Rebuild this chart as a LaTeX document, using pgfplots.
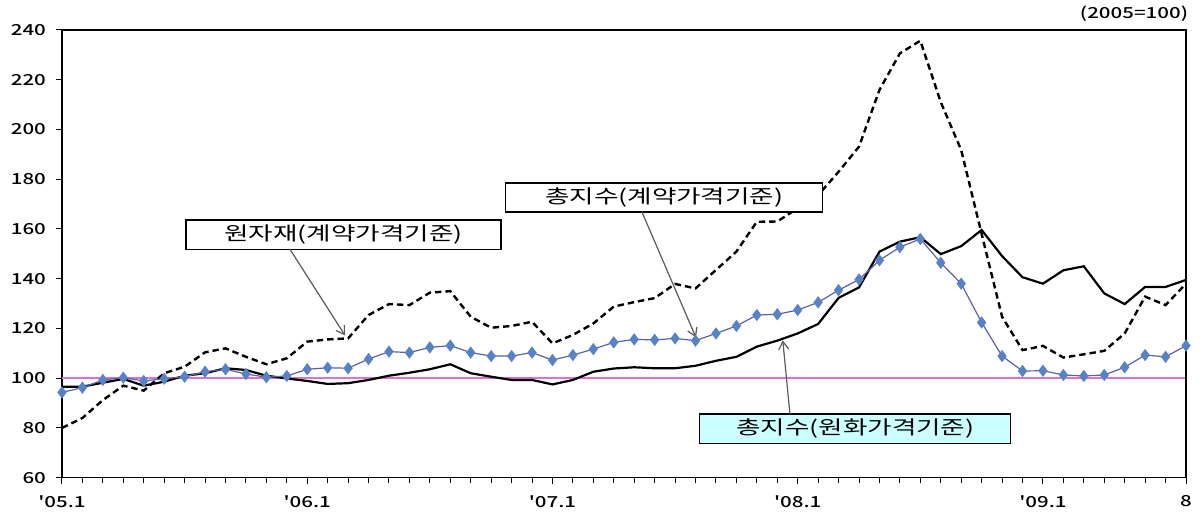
\documentclass[border=0pt]{standalone}
\usepackage{fontspec}
\setmainfont{Noto Sans CJK KR}[FakeStretch=1.4]
\newfontfamily\tickfont{Noto Sans CJK KR Medium}[FakeStretch=1.35]
\usepackage{pgfplots}
\pgfplotsset{compat=1.18}
\usetikzlibrary{arrows.meta}

\definecolor{markblue}{RGB}{88,130,198}
\definecolor{lineblue}{RGB}{92,96,170}
\definecolor{refpink}{RGB}{226,112,210}
\definecolor{boxcyan}{RGB}{204,255,255}
\definecolor{arrowgray}{RGB}{90,90,90}

\begin{document}
\begin{tikzpicture}
\path[use as bounding box] (-31pt,-17.65pt) rectangle (570.5pt,238.85pt);
\begin{axis}[
  scale only axis,
  width=562pt, height=223.85pt,
  clip=false,
  xmin=0, xmax=55,
  ymin=60, ymax=240,
  xtick={0,12,24,36,48,55},
  xticklabels={'05.1,'06.1,'07.1,'08.1,'09.1,8},
  minor xtick={0,...,55},
  ytick={60,80,...,240},
  tick align=outside,
  major tick length=3pt,
  minor tick length=2.5pt,
  tick style={black, line width=0.5pt},
  axis line style={black, line width=0.6pt},
  axis x line*=bottom,
  axis y line*=left,
  /pgf/number format/assume math mode=true,
  tick label style={font=\tickfont\fontsize{7.6}{8}\selectfont},
  yticklabel style={xshift=-1.5pt},
  xticklabel style={yshift=-2.5pt},
]
% reference line at 100
\addplot[refpink, line width=1pt] coordinates {(0,100) (55,100)};
\draw[black, line width=0.6pt] (axis cs:0,240) -- (axis cs:55,240) -- (axis cs:55,60);

% 원자재(계약가격기준)
\addplot[black, line width=1.2pt, dash pattern=on 3.2pt off 2pt] table {
0 80
1 84
2 91.2
3 97
4 95
5 102
6 104.6
7 110.4
8 112
9 108.6
10 105.6
11 108
12 114.7
13 115.6
14 116
15 125.4
16 129.8
17 129.4
18 134.4
19 135
20 124.7
21 120.3
22 121
23 122.7
24 114
25 117.4
26 122
27 128.8
28 130.6
29 132.2
30 137.9
31 136.1
32 143.5
33 150.9
34 162.9
35 163
36 168.3
37 173.6
38 183
39 193.1
40 215.9
41 230.6
42 235.7
43 211
44 191.7
45 158
46 124.7
47 111.3
48 113
49 108.3
50 109.6
51 111
52 118
53 132.8
54 129.4
55 138
};

% 총지수(원화가격기준)
\addplot[black, line width=1.1pt] table {
0 96.6
1 96.6
2 98.2
3 99.7
4 97
5 98.6
6 101
7 102
8 104
9 103.3
10 101
11 99.9
12 98.9
13 97.7
14 98
15 99.3
16 101
17 102.2
18 103.6
19 105.6
20 102
21 100.6
22 99.3
23 99.3
24 97.5
25 99.3
26 102.6
27 103.9
28 104.4
29 104
30 104
31 105
32 107
33 108.6
34 112.7
35 115.1
36 118
37 121.8
38 132.3
39 136.5
40 150.9
41 154.9
42 156.7
43 149.9
44 153.1
45 159.6
46 149.1
47 140.6
48 138
49 143.4
50 145
51 134.1
52 129.8
53 136.7
54 136.7
55 139.5
};

% 총지수(계약가격기준)
\addplot[lineblue, line width=0.6pt, mark=diamond*, mark size=2.6pt,
  mark options={solid, fill=markblue, draw=markblue}] table {
0 94.3
1 96.2
2 99.3
3 100.2
4 98.9
5 99.8
6 100.6
7 102.6
8 103.6
9 101.7
10 100.4
11 100.9
12 103.6
13 104.2
14 104
15 107.7
16 110.7
17 110.3
18 112.4
19 113.1
20 110.3
21 108.9
22 108.9
23 110.3
24 107.3
25 109.3
26 111.7
27 114.4
28 115.6
29 115.4
30 116
31 115.1
32 118
33 121
34 125.4
35 125.7
36 127.4
37 130.5
38 135.4
39 139.7
40 147.4
41 152.7
42 156
43 146.4
44 138
45 122.4
46 108.9
47 102.9
48 103
49 101.3
50 100.9
51 101.3
52 104.4
53 109.3
54 108.6
55 113.1
};

% annotation boxes and arrows
\draw[black, line width=0.6pt, fill=white] (axis cs:6.07,163.6) rectangle (axis cs:21.48,151.9);
\node[font=\fontsize{9.5}{10}\selectfont] at (axis cs:13.78,157.75) {원자재(계약가격기준)};
\draw[arrowgray, line width=0.6pt, -{Straight Barb[length=4pt,width=5pt]}] (axis cs:11.15,151.9) -- (axis cs:13.85,117.2);

\draw[black, line width=0.6pt, fill=white] (axis cs:21.72,178.5) rectangle (axis cs:37.23,166.8);
\node[font=\fontsize{9.5}{10}\selectfont] at (axis cs:29.47,172.65) {총지수(계약가격기준)};
\draw[arrowgray, line width=0.6pt, -{Straight Barb[length=4pt,width=5pt]}] (axis cs:28.38,166.8) -- (axis cs:31.02,116.4);

\draw[black, line width=0.6pt, fill=boxcyan] (axis cs:31.21,85.6) rectangle (axis cs:46.43,73.9);
\node[font=\fontsize{9.5}{10}\selectfont] at (axis cs:38.82,79.75) {총지수(원화가격기준)};
\draw[arrowgray, line width=0.6pt, -{Straight Barb[length=4pt,width=5pt]}] (axis cs:35.62,85.6) -- (axis cs:35.27,115.2);

\node[anchor=east, font=\tickfont\fontsize{7.6}{8}\selectfont] at (axis cs:55.45,246.4) {(2005=100)};
\end{axis}
\end{tikzpicture}
\end{document}
